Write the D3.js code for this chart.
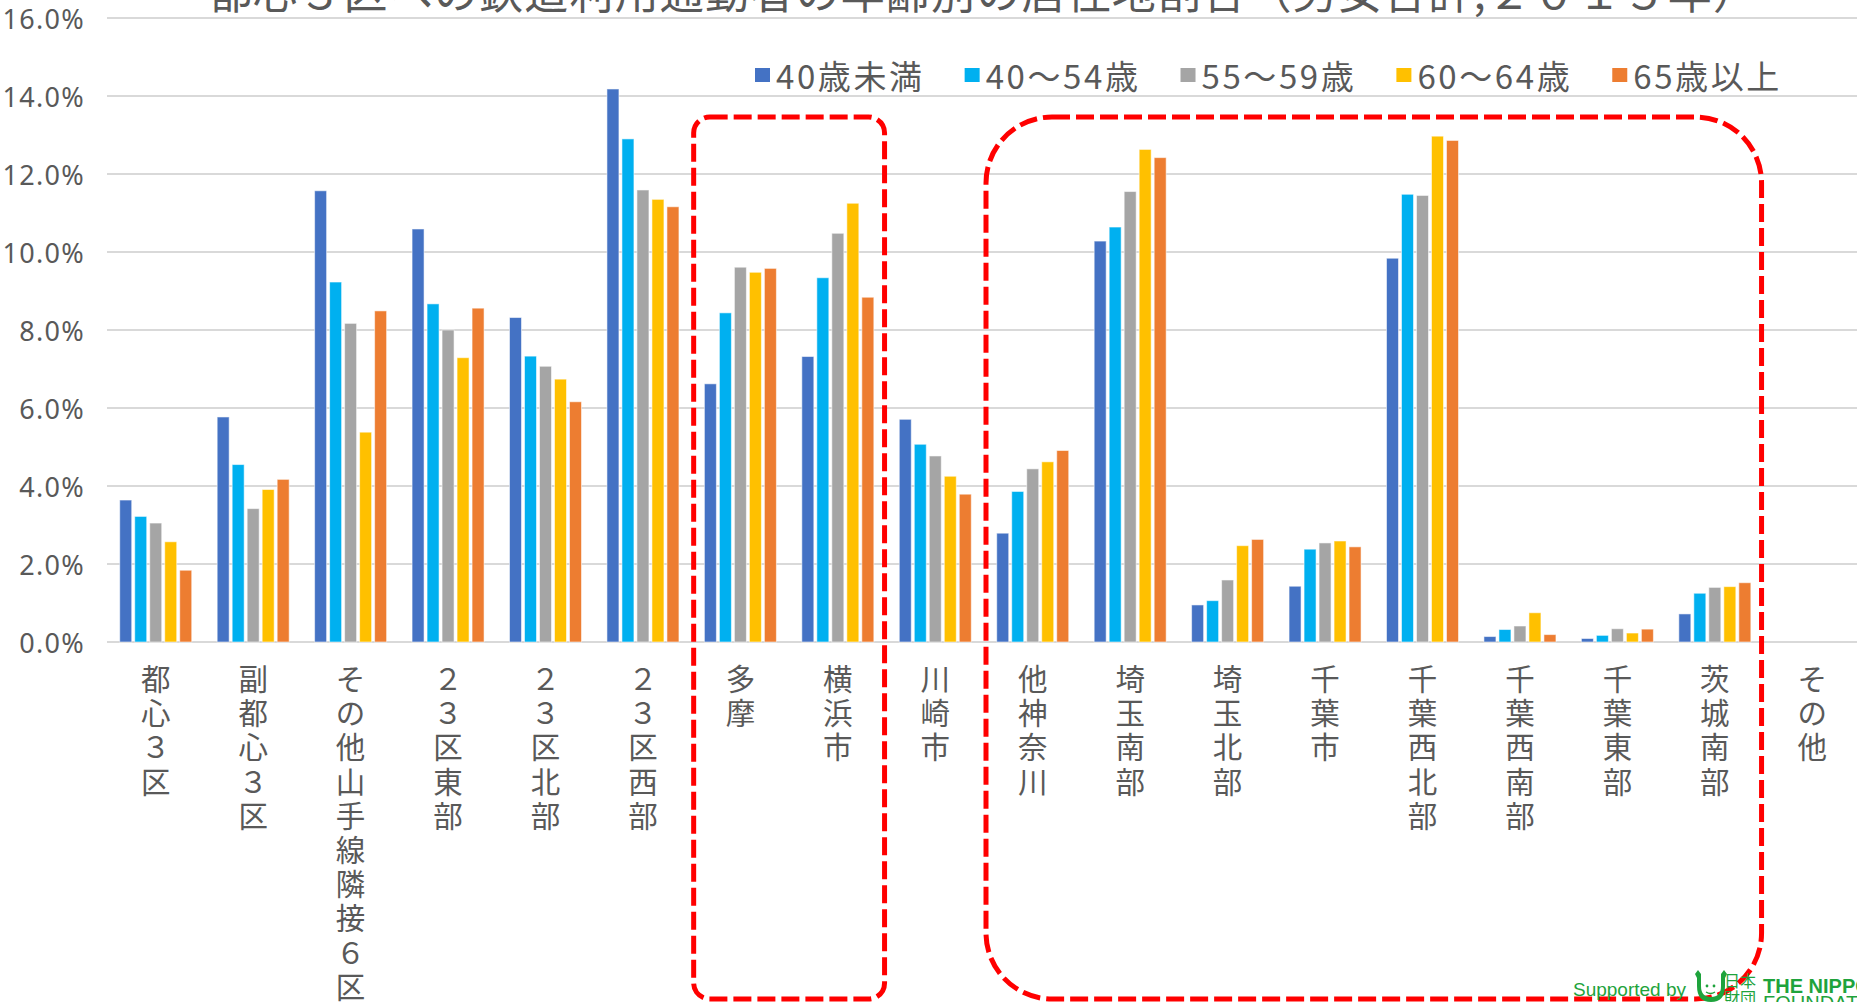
<!DOCTYPE html>
<html lang="ja">
<head>
<meta charset="utf-8">
<script src="https://cdn.jsdelivr.net/npm/d3@7"></script>
<style>
  html, body { margin: 0; padding: 0; background: #fff; }
  svg { display: block; }
</style>
</head>
<body>
<svg id="chart" width="1857" height="1002"></svg>
<script>
// 居住地（区分）
const categories = [
  "都心３区", "副都心３区", "その他山手線隣接６区", "２３区東部", "２３区北部", "２３区西部",
  "多摩", "横浜市", "川崎市", "他神奈川", "埼玉南部", "埼玉北部", "千葉市",
  "千葉西北部", "千葉西南部", "千葉東部", "茨城南部", "その他"
];

// 年齢区分
const seriesNames = ["40歳未満", "40～54歳", "55～59歳", "60～64歳", "65歳以上"];

// 各年齢区分の居住地割合（%）
const under40   = [3.64, 5.77, 11.57, 10.59, 8.32, 14.18, 6.62, 7.32, 5.71, 2.79, 10.28, 0.95, 1.43,  9.84, 0.14, 0.09, 0.72, 0];
const age40to54 = [3.22, 4.55,  9.23,  8.67, 7.33, 12.90, 8.44, 9.34, 5.07, 3.86, 10.64, 1.06, 2.38, 11.48, 0.32, 0.17, 1.25, 0];
const age55to59 = [3.05, 3.42,  8.17,  8.00, 7.07, 11.59, 9.61, 10.48, 4.77, 4.44, 11.55, 1.59, 2.54, 11.45, 0.41, 0.34, 1.40, 0];
const age60to64 = [2.57, 3.91,  5.38,  7.29, 6.74, 11.35, 9.48, 11.25, 4.25, 4.62, 12.63, 2.47, 2.59, 12.97, 0.75, 0.23, 1.42, 0];
const age65plus = [1.84, 4.17,  8.49,  8.56, 6.16, 11.16, 9.58, 8.84, 3.79, 4.91, 12.42, 2.63, 2.44, 12.86, 0.19, 0.33, 1.52, 0];

const seriesValues = [under40, age40to54, age55to59, age60to64, age65plus];
const seriesColors = ["#4472C4", "#00B0F0", "#A5A5A5", "#FFC000", "#ED7D31"];

// 縦軸目盛
const yTicks = [0, 2, 4, 6, 8, 10, 12, 14, 16];

// 破線で囲む居住地グループ
const highlightGroups = [
  { from: "多摩", to: "横浜市", radius: 16 },
  { from: "他神奈川", to: "茨城南部", radius: 66 }
];

const titleText = "都心３区への鉄道利用通勤者の年齢別の居住地割合（男女合計,２０１５年）";

const svg = d3.select("#chart");
const W = 1857, H = 1002;
const plot = { left: 107, right: 1861, top: 18, bottom: 642 };
const textColor = "#595959";
const cjk = "'Noto Sans CJK JP', 'Noto Sans', sans-serif";

const y = d3.scaleLinear().domain([0, 16]).range([plot.bottom, plot.top]);
const x0 = d3.scaleBand().domain(categories).range([plot.left, plot.right]);
const groupWidth = 72;
const x1 = d3.scaleBand().domain(seriesNames)
  .range([x0.bandwidth() / 2 - groupWidth / 2, x0.bandwidth() / 2 + groupWidth / 2])
  .paddingInner(0.2).paddingOuter(0);

// タイトル（上端で切れている）
svg.append("text")
  .attr("x", 983).attr("y", 9)
  .attr("text-anchor", "middle")
  .attr("font-family", cjk).attr("font-size", 44).attr("letter-spacing", 1.2)
  .attr("fill", textColor)
  .text(titleText);

// 目盛線
svg.append("g").selectAll("line").data(yTicks).join("line")
  .attr("x1", plot.left).attr("x2", W)
  .attr("y1", d => y(d)).attr("y2", d => y(d))
  .attr("stroke", "#d9d9d9").attr("stroke-width", 2);

// 縦軸ラベル
svg.append("g").selectAll("text").data(yTicks).join("text")
  .attr("x", 85).attr("y", d => y(d))
  .attr("text-anchor", "end").attr("dominant-baseline", "central")
  .attr("font-family", "'Noto Sans', sans-serif").attr("font-size", 27)
  .attr("letter-spacing", 1.3)
  .attr("fill", textColor)
  .text(d => d3.format(".1f")(d) + "%");

// 棒
const rows = categories.map((c, i) => ({
  category: c,
  values: seriesNames.map((s, k) => ({ series: s, k, value: seriesValues[k][i] }))
}));

svg.append("g").selectAll("g").data(rows).join("g")
  .attr("transform", d => `translate(${x0(d.category)},0)`)
  .selectAll("rect").data(d => d.values.filter(v => v.value > 0)).join("rect")
    .attr("x", d => x1(d.series))
    .attr("width", x1.bandwidth())
    .attr("y", d => y(d.value))
    .attr("height", d => y(0) - y(d.value))
    .attr("fill", d => seriesColors[d.k])
    .attr("stroke", "rgba(255,255,255,0.55)")
    .attr("stroke-width", 1);

// 居住地ラベル（縦書き：1文字ずつ積む）
const catLabels = svg.append("g").selectAll("text").data(categories).join("text")
  .attr("text-anchor", "middle")
  .attr("font-family", cjk).attr("font-size", 29.5)
  .attr("fill", textColor);
catLabels.selectAll("tspan").data(d => Array.from(d).map(ch => ({ ch, cat: d }))).join("tspan")
  .attr("x", d => x0(d.cat) + x0.bandwidth() / 2)
  .attr("y", (d, i) => 677 + i * 34.2)
  .attr("dominant-baseline", "central")
  .text(d => d.ch);

// 凡例
const legend = svg.append("g").attr("transform", "translate(755,75)");
let lx = 0;
seriesNames.forEach((name, k) => {
  const item = legend.append("g").attr("transform", `translate(${lx},0)`);
  item.append("rect").attr("x", 0).attr("y", -7).attr("width", 15).attr("height", 14)
    .attr("fill", seriesColors[k]);
  const t = item.append("text").attr("x", 21).attr("y", 0)
    .attr("dominant-baseline", "central")
    .attr("font-family", cjk).attr("font-size", 33).attr("letter-spacing", 2.6)
    .attr("fill", textColor).text(name);
  lx += 21 + t.node().getComputedTextLength() + 40;
});

// 破線の囲み
highlightGroups.forEach(g => {
  const left = x0(g.from) + 2;
  const right = x0(g.to) + x0.bandwidth() - 2;
  svg.append("rect")
    .attr("x", left).attr("y", 117)
    .attr("width", right - left).attr("height", 999 - 117)
    .attr("rx", g.radius).attr("ry", g.radius)
    .attr("fill", "none")
    .attr("stroke", "#FF0000").attr("stroke-width", 5)
    .attr("stroke-dasharray", "18 6");
});

// クレジット
const green = "#1EA33C";
const credit = svg.append("g");
credit.append("text").attr("x", 1573).attr("y", 996)
  .attr("font-family", "'Liberation Sans', Arial, sans-serif").attr("font-size", 19)
  .attr("fill", green).text("Supported by");
// ロゴ（両手を上げた顔）
credit.append("path")
  .attr("d", "M1695,974 l3,-4 l3,4 l0,12 q0,11 10,11 q10,0 10,-11 l0,-12 l3,-4 l3,4 l-2,4 l0,8 q0,16 -14,16 q-14,0 -14,-16 l0,-8 z")
  .attr("fill", green);
credit.append("circle").attr("cx", 1707).attr("cy", 986).attr("r", 1.4).attr("fill", green);
credit.append("circle").attr("cx", 1714).attr("cy", 986).attr("r", 1.4).attr("fill", green);
credit.append("path").attr("d", "M1706,992 q4.5,3 9,0").attr("fill", "none")
  .attr("stroke", green).attr("stroke-width", 1.3);
credit.append("text").attr("x", 1724).attr("y", 987)
  .attr("font-family", cjk).attr("font-size", 16).attr("fill", green).text("日本");
credit.append("text").attr("x", 1724).attr("y", 1004)
  .attr("font-family", cjk).attr("font-size", 16).attr("fill", green).text("財団");
credit.append("text").attr("x", 1763).attr("y", 993)
  .attr("font-family", "'Liberation Sans Narrow', 'Liberation Sans', Arial, sans-serif")
  .attr("font-weight", "bold").attr("font-size", 20).attr("fill", green).text("THE NIPPON");
credit.append("text").attr("x", 1763).attr("y", 1010)
  .attr("font-family", "'Liberation Sans Narrow', 'Liberation Sans', Arial, sans-serif")
  .attr("font-size", 20).attr("fill", green).text("FOUNDATION");
</script>
</body>
</html>
